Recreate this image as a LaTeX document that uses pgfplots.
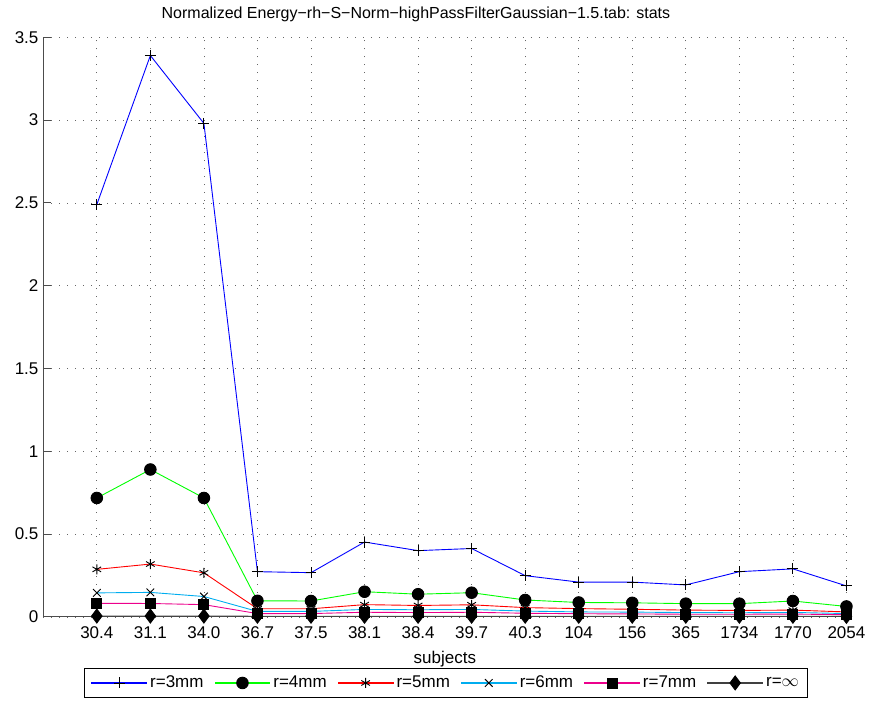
\documentclass[border=0pt]{standalone}
\usepackage{fontspec}
\setmainfont{Liberation Sans}
\usepackage{pgfplots}
\pgfplotsset{compat=1.18}
% legend image: coloured line, black mark in the middle
\pgfplotsset{legimg/.style n args={3}{
  legend image code/.code={%
    \fill[fill=#1] (0pt,-0.45pt) rectangle (55pt,0.45pt);
    \begin{scope}[shift={(27.5pt,0pt)}, black, line width=0.9pt, solid]
      \pgfsetstrokecolor{black}\pgfsetfillcolor{black}%
      \pgfsetplotmarksize{#3}\pgfuseplotmark{#2}%
    \end{scope}}}}
\begin{document}
\fontsize{17pt}{20pt}\selectfont
\begin{tikzpicture}
\begin{axis}[
  at={(0pt,0pt)}, anchor=south west,
  scale only axis,
  width=803.7pt, height=580pt,
  xmin=0, xmax=15, ymin=0, ymax=3.5,
  axis lines*=left,
  axis line style={black!70, line width=0.8pt},
  tick align=inside,
  major tick length=8pt,
  tick style={black!70, line width=0.8pt},
  xtick={1,...,15},
  xticklabels={30.4,31.1,34.0,36.7,37.5,38.1,38.4,39.7,40.3,104,156,365,1734,1770,2054},
  ytick={0,0.5,...,3.5},
  yticklabels={0,0.5,1,1.5,2,2.5,3,3.5},
  /pgf/number format/assume math mode=true,
  ticklabel style={font=\fontsize{17pt}{20pt}\selectfont},
  xticklabel style={yshift=-4pt},
  yticklabel style={xshift=1pt},
  grid=major,
  major grid style={black!60, line width=0.7pt, dash pattern=on 0.8pt off 7.2pt},
  title={Normalized Energy−rh−S−Norm−highPassFilterGaussian−1.5.tab: stats},
  title style={font=\fontsize{16pt}{19pt}\selectfont, at={(0.464,1)}, anchor=south, yshift=4pt},
  xlabel={subjects},
  xlabel style={font=\fontsize{17pt}{20pt}\selectfont, yshift=-1pt},
  legend columns=6,
  legend style={at={(0.501,-0.114)}, anchor=center,
    inner xsep=7pt, inner ysep=6.5pt, line width=0.8pt,
    font=\fontsize{17pt}{20pt}\selectfont,
    nodes={inner sep=1pt},
    /tikz/every odd column/.append style={column sep=2pt},
    /tikz/every even column/.append style={column sep=10pt}},
  every axis plot/.append style={line width=0.9pt},
]
\addplot[blue, mark=+, mark size=5.5pt, mark options={black, solid, line width=0.9pt}, legimg={blue}{+}{5.5pt}] coordinates {
(1,2.49) (2,3.39) (3,2.98) (4,0.273) (5,0.267) (6,0.452) (7,0.400) (8,0.413) (9,0.249) (10,0.210) (11,0.210) (12,0.193) (13,0.273) (14,0.290) (15,0.187)};
\addlegendentry{r=3mm}
\addplot[green, mark=*, mark size=5.8pt, mark options={black, fill=black, solid}, legimg={green}{*}{5.8pt}] coordinates {
(1,0.718) (2,0.890) (3,0.718) (4,0.097) (5,0.096) (6,0.152) (7,0.137) (8,0.146) (9,0.102) (10,0.087) (11,0.085) (12,0.080) (13,0.080) (14,0.096) (15,0.063)};
\addlegendentry{r=4mm}
\addplot[red, mark=asterisk, mark size=5pt, mark options={black, solid, line width=0.9pt}, legimg={red}{asterisk}{5pt}] coordinates {
(1,0.287) (2,0.319) (3,0.266) (4,0.049) (5,0.049) (6,0.074) (7,0.069) (8,0.073) (9,0.056) (10,0.050) (11,0.046) (12,0.041) (13,0.039) (14,0.041) (15,0.030)};
\addlegendentry{r=5mm}
\addplot[cyan, mark=x, mark size=5.4pt, mark options={black, solid, line width=0.9pt}, legimg={cyan}{x}{5.4pt}] coordinates {
(1,0.145) (2,0.148) (3,0.123) (4,0.033) (5,0.033) (6,0.045) (7,0.043) (8,0.045) (9,0.035) (10,0.030) (11,0.029) (12,0.026) (13,0.025) (14,0.027) (15,0.020)};
\addlegendentry{r=6mm}
\addplot[magenta, mark=square*, mark size=5pt, mark options={black, fill=black, solid}, legimg={magenta}{square*}{5pt}] coordinates {
(1,0.082) (2,0.081) (3,0.074) (4,0.020) (5,0.020) (6,0.028) (7,0.026) (8,0.028) (9,0.022) (10,0.019) (11,0.018) (12,0.016) (13,0.016) (14,0.017) (15,0.013)};
\addlegendentry{r=7mm}
\addplot[black!75, mark=diamond*, mark size=7pt, mark options={black, fill=black, solid}, legimg={black!75}{diamond*}{7pt}] coordinates {
(1,0.005) (2,0.005) (3,0.005) (4,0.004) (5,0.004) (6,0.004) (7,0.004) (8,0.004) (9,0.004) (10,0.004) (11,0.004) (12,0.004) (13,0.004) (14,0.004) (15,0.003)};
\addlegendentry{r=$\infty$}
\end{axis}
\useasboundingbox (-43.3pt,-83.7pt) rectangle (827.7pt,617.3pt);
\end{tikzpicture}
\end{document}
